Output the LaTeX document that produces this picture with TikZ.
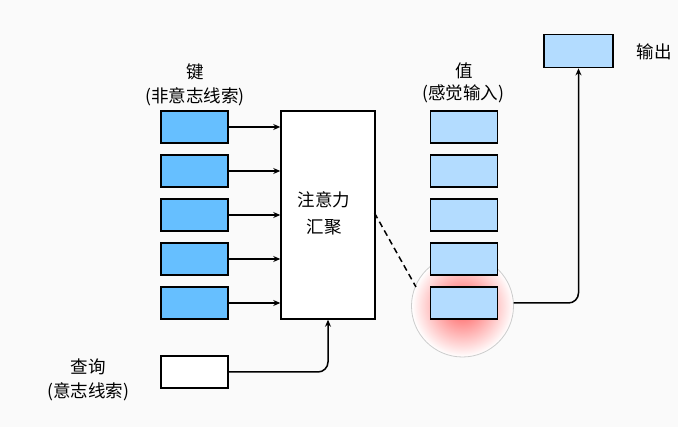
\documentclass[tikz,border=0pt]{standalone}
\usepackage{fontspec}
\setmainfont{Noto Sans CJK SC}
\usetikzlibrary{arrows.meta,shadings}
\definecolor{bgcol}{RGB}{250,250,250}
\definecolor{keyblue}{RGB}{102,191,255}
\definecolor{valblue}{RGB}{179,220,255}
\definecolor{focusred}{RGB}{255,90,90}
\tikzset{
  keybox/.style={draw=black, line width=1.8pt, fill=keyblue, minimum width=67pt, minimum height=32pt, inner sep=0pt},
  valbox/.style={keybox, fill=valblue},
  querybox/.style={keybox, fill=white},
  lbl/.style={font=\fontsize{17.5}{20}\selectfont, inner sep=0pt},
  conn/.style={line width=1.5pt, -{Stealth[length=7pt,width=6pt]}}
}
\begin{document}
\begin{tikzpicture}[x=1pt,y=-1pt]
\fill[bgcol] (0,0) rectangle (678,427);
\useasboundingbox (0,0) rectangle (678,427);
% focus circle
\shade[inner color=focusred, outer color=white, draw=gray!40, line width=0.8pt] (462.5,306) circle (51);
% keys, values
\foreach \i/\y in {1/127,2/171,3/215,4/259,5/303} {
  \node[keybox] (key\i) at (194.5,\y) {};
  \node[valbox] (val\i) at (464,\y) {};
}
\node[lbl] (keylbl) at (195,72) {键};
\node[lbl] (keysub) at (195,97) {(非意志线索)};
\node[lbl] (vallbl) at (464,71) {值};
\node[lbl] (valsub) at (463,94) {(感觉输入)};
% attention pooling
\node[draw=black, line width=1.5pt, fill=white, minimum width=94pt, minimum height=208pt, inner sep=0pt] (pool) at (328,215) {};
\node[lbl, align=center] (poollbl) at (324,213.5) {注意力\\[7pt]汇聚};
\foreach \i in {1,...,5}
  \draw[conn] (key\i.east) -- (key\i.east -| pool.west);
% query
\node[querybox] (query) at (194.5,372) {};
\node[lbl] (querylbl) at (88,367) {查询};
\node[lbl] (querysub) at (88,392) {(意志线索)};
\draw[conn, rounded corners=10pt] (query.east) -| (pool.south -| 328,0);
% output
\node[valbox, minimum width=69pt, minimum height=33pt] (out) at (578.5,51) {};
\node[lbl] (outlbl) at (654,52) {输出};
\coordinate (circR) at (513.5,303);
\draw[conn, rounded corners=10pt] (circR) -| (out.south);
% dashed link
\coordinate (dashA) at (374.5,213);
\coordinate (dashB) at (416,287);
\draw[line width=1.5pt, dash pattern=on 6pt off 4pt] (dashA) -- (dashB);
\end{tikzpicture}
\end{document}
